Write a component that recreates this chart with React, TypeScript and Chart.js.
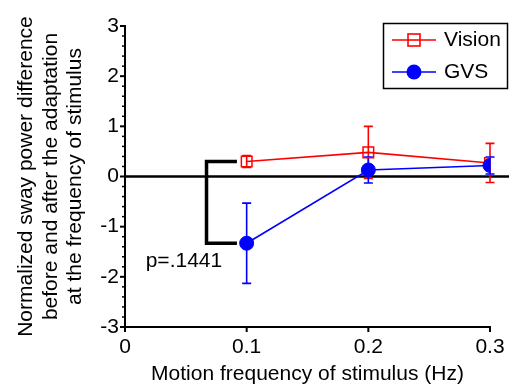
import { useEffect, useRef } from 'react';
import { Chart, registerables } from 'chart.js';

Chart.register(...registerables);

// ---- data ----
const frequencies = [0.1, 0.2, 0.3];
const visionMean = [0.3, 0.48, 0.27];
const visionErr = [0.12, 0.52, 0.39];
const gvsMean = [-1.33, 0.13, 0.22];
const gvsErr = [0.8, 0.26, 0.17];
const seriesNames = ['Vision', 'GVS'];
const xTickLabels = ['0', '0.1', '0.2', '0.3'];
const yTickLabels = ['-3', '-2', '-1', '0', '1', '2', '3'];
const xTitle = 'Motion frequency of stimulus (Hz)';
const yTitle = [
  'Normalized sway power difference',
  'before and after the adaptation',
  'at the frequency of stimulus',
];
const pValueLabel = 'p=.1441';
// annotation placement (data units)
const bracketX = 0.067;
const bracketEndX = 0.092;
const pLabelPos = { x: 0.017, y: -1.68 };

const FONT = "'Liberation Sans', Arial, sans-serif";
const FS = 21;
const RED = '#ff0000';
const BLUE = '#0000ff';

const annotationPlugin = {
  id: 'annotations',
  beforeDatasetsDraw(chart: any) {
    const { ctx, scales, chartArea } = chart;
    const x = scales.x;
    const y = scales.y;
    ctx.save();
    // zero line
    const y0 = y.getPixelForValue(0);
    ctx.strokeStyle = '#000';
    ctx.lineWidth = 2.5;
    ctx.beginPath();
    ctx.moveTo(chartArea.left, y0);
    ctx.lineTo(chart.width, y0);
    ctx.stroke();

    // error bars
    const drawErr = (means: number[], errs: number[], color: string) => {
      ctx.strokeStyle = color;
      ctx.lineWidth = 1.6;
      means.forEach((m, i) => {
        const px = x.getPixelForValue(frequencies[i]);
        const top = y.getPixelForValue(m + errs[i]);
        const bot = y.getPixelForValue(m - errs[i]);
        ctx.beginPath();
        ctx.moveTo(px, top);
        ctx.lineTo(px, bot);
        ctx.moveTo(px - 4.5, top);
        ctx.lineTo(px + 4.5, top);
        ctx.moveTo(px - 4.5, bot);
        ctx.lineTo(px + 4.5, bot);
        ctx.stroke();
      });
    };
    drawErr(visionMean, visionErr, RED);
    drawErr(gvsMean, gvsErr, BLUE);

    // bracket
    const bx = x.getPixelForValue(bracketX);
    const be = x.getPixelForValue(bracketEndX);
    const yv = y.getPixelForValue(visionMean[0]);
    const yg = y.getPixelForValue(gvsMean[0]);
    ctx.strokeStyle = '#000';
    ctx.lineWidth = 3.5;
    ctx.lineJoin = 'miter';
    ctx.beginPath();
    ctx.moveTo(be, yv);
    ctx.lineTo(bx, yv);
    ctx.lineTo(bx, yg);
    ctx.lineTo(be, yg);
    ctx.stroke();

    // p-value
    ctx.fillStyle = '#000';
    ctx.font = `${FS}px ${FONT}`;
    ctx.textAlign = 'left';
    ctx.textBaseline = 'middle';
    ctx.fillText(pValueLabel, x.getPixelForValue(pLabelPos.x), y.getPixelForValue(pLabelPos.y));
    ctx.restore();
  },
  afterDraw(chart: any) {
    const { ctx, scales, chartArea } = chart;
    const x = scales.x;
    const y = scales.y;
    ctx.save();
    ctx.strokeStyle = '#000';
    // y ticks (major + minor)
    const yt = y.ticks.map((t: any) => t.value);
    ctx.lineWidth = 2;
    yt.forEach((v: number) => {
      const py = y.getPixelForValue(v);
      ctx.beginPath();
      ctx.moveTo(chartArea.left - 5, py);
      ctx.lineTo(chartArea.left, py);
      ctx.stroke();
    });
    ctx.lineWidth = 1.5;
    for (let i = 0; i < yt.length - 1; i++) {
      for (let k = 1; k < 5; k++) {
        const v = yt[i] + ((yt[i + 1] - yt[i]) * k) / 5;
        const py = y.getPixelForValue(v);
        ctx.beginPath();
        ctx.moveTo(chartArea.left - 3, py);
        ctx.lineTo(chartArea.left, py);
        ctx.stroke();
      }
    }
    // x ticks
    ctx.lineWidth = 2;
    x.ticks.forEach((t: any) => {
      const px = x.getPixelForValue(t.value);
      ctx.beginPath();
      ctx.moveTo(px, chartArea.bottom);
      ctx.lineTo(px, chartArea.bottom + 5);
      ctx.stroke();
    });

    // legend
    const ds = chart.data.datasets;
    ctx.lineWidth = 1.5;
    ctx.strokeStyle = '#000';
    ctx.strokeRect(383.5, 23.5, 124, 65);
    const rows = [40, 72];
    ds.forEach((d: any, i: number) => {
      const ly = rows[i];
      ctx.strokeStyle = d.borderColor;
      ctx.lineWidth = 1.6;
      ctx.beginPath();
      ctx.moveTo(392, ly);
      ctx.lineTo(436, ly);
      ctx.stroke();
      if (d.pointStyle === 'rect') {
        ctx.fillStyle = '#fff';
        ctx.fillRect(408, ly - 6, 12, 12);
        ctx.strokeRect(408, ly - 6, 12, 12);
        ctx.beginPath();
        ctx.moveTo(408, ly);
        ctx.lineTo(420, ly);
        ctx.stroke();
      } else {
        ctx.fillStyle = d.pointBackgroundColor;
        ctx.beginPath();
        ctx.arc(414, ly, 7.5, 0, Math.PI * 2);
        ctx.fill();
      }
      ctx.fillStyle = '#000';
      ctx.font = `${FS}px ${FONT}`;
      ctx.textAlign = 'left';
      ctx.textBaseline = 'middle';
      ctx.fillText(d.label, 444, ly);
    });
    ctx.restore();
  },
};

export default function App() {
  const ref = useRef<HTMLCanvasElement>(null);
  useEffect(() => {
    if (!ref.current) return;
    Chart.defaults.font.family = FONT;
    const chart = new Chart(ref.current, {
      type: 'line',
      data: {
        datasets: [
          {
            label: seriesNames[0],
            data: frequencies.map((f, i) => ({ x: f, y: visionMean[i] })),
            borderColor: RED,
            borderWidth: 1.6,
            pointStyle: 'rect',
            pointRadius: 7.5,
            pointHoverRadius: 7.5,
            pointBackgroundColor: 'rgba(0,0,0,0)',
            pointBorderColor: RED,
            pointBorderWidth: 1.5,
            tension: 0,
            fill: false,
            order: 2,
          },
          {
            label: seriesNames[1],
            data: frequencies.map((f, i) => ({ x: f, y: gvsMean[i] })),
            borderColor: BLUE,
            borderWidth: 1.6,
            pointStyle: 'circle',
            pointRadius: 7,
            pointHoverRadius: 7,
            pointBackgroundColor: BLUE,
            pointBorderColor: BLUE,
            pointBorderWidth: 1,
            tension: 0,
            fill: false,
            order: 1,
          },
        ],
      },
      plugins: [annotationPlugin],
      options: {
        animation: false,
        responsive: false,
        devicePixelRatio: 1,
        layout: { padding: { top: 26, right: 19, left: 0, bottom: 0 } },
        plugins: { legend: { display: false }, tooltip: { enabled: false }, title: { display: false } },
        scales: {
          x: {
            type: 'linear',
            min: 0,
            max: 0.3,
            ticks: {
              stepSize: 0.1,
              padding: 8,
              color: '#000',
              maxRotation: 0,
              autoSkip: false,
              font: { family: FONT, size: FS, lineHeight: 1.2 },
              callback: (_v: any, i: number) => xTickLabels[i],
            },
            grid: { display: false, drawTicks: false, drawOnChartArea: false },
            border: { display: true, color: '#000', width: 2 },
            title: {
              display: true,
              text: xTitle,
              color: '#000',
              font: { family: FONT, size: FS, lineHeight: 1 },
              padding: { top: 0, bottom: 0 },
            },
            afterFit: (s: any) => {
              s.height = 58;
              s.paddingLeft = 0;
              s.paddingRight = 0;
            },
          },
          y: {
            type: 'linear',
            min: -3,
            max: 3,
            ticks: {
              stepSize: 1,
              padding: 6,
              color: '#000',
              font: { family: FONT, size: FS, lineHeight: 1.2 },
              callback: (_v: any, i: number) => yTickLabels[i],
            },
            grid: { display: false, drawTicks: false, drawOnChartArea: false },
            border: { display: true, color: '#000', width: 2 },
            title: {
              display: true,
              text: yTitle,
              color: '#000',
              font: { family: FONT, size: FS, lineHeight: 1.167 },
              padding: { top: 14, bottom: 0 },
            },
            afterFit: (s: any) => {
              s.width = 125;
              s.paddingTop = 0;
              s.paddingBottom = 0;
            },
          },
        },
      },
    } as any);
    return () => chart.destroy();
  }, []);
  return (
    <div style={{ position: 'fixed', left: 0, top: 0, width: 509, height: 385, background: '#fff' }}>
      <canvas ref={ref} width={509} height={385} />
    </div>
  );
}
